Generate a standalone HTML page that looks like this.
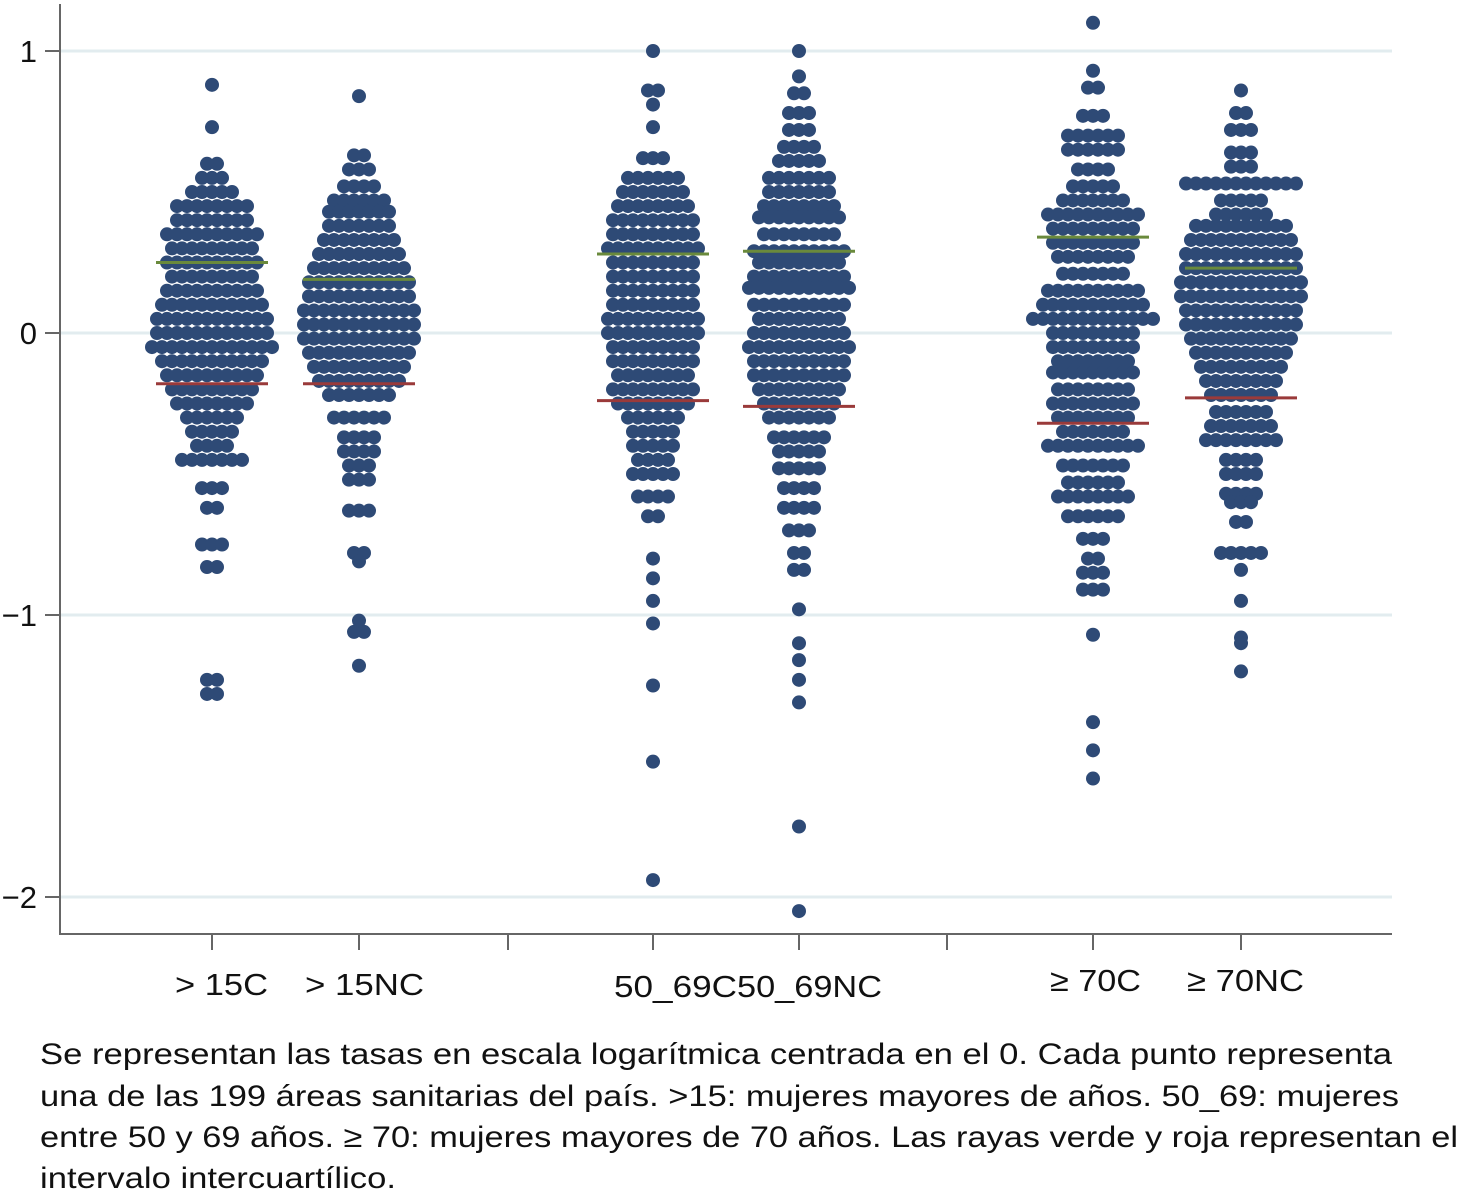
<!DOCTYPE html>
<html><head><meta charset="utf-8"><style>
body{margin:0;background:#fff;}
svg text{font-family:"Liberation Sans",sans-serif;fill:#111;}
</style></head><body>
<svg width="1461" height="1198" xmlns="http://www.w3.org/2000/svg">
<g id="grid"></g><g id="axes"></g><g id="dots"></g><g id="iqr"></g>
<g font-size="30">
<text x="40" y="1064" textLength="1352" lengthAdjust="spacingAndGlyphs">Se representan las tasas en escala logarítmica centrada en el 0. Cada punto representa</text>
<text x="40" y="1106" textLength="1359" lengthAdjust="spacingAndGlyphs">una de las 199 áreas sanitarias del país. &gt;15: mujeres mayores de años. 50_69: mujeres</text>
<text x="40" y="1147" textLength="1418" lengthAdjust="spacingAndGlyphs">entre 50 y 69 años. ≥ 70: mujeres mayores de 70 años. Las rayas verde y roja representan el</text>
<text x="40" y="1188" textLength="356" lengthAdjust="spacingAndGlyphs">intervalo intercuartílico.</text>
</g>
</svg>
<script>
const categories=["> 15C","> 15NC","50_69C","50_69NC","≥ 70C","≥ 70NC"];
const yTicks=[1,0,-1,-2];
const q3Values=[0.25,0.19,0.28,0.29,0.34,0.23];
const q1Values=[-0.18,-0.18,-0.24,-0.26,-0.32,-0.23];
const g1Bins=[[0.88,1],[0.73,1],[0.6,2],[0.55,3],[0.5,5],[0.45,8],[0.4,8],[0.35,10],[0.3,9],[0.25,10],[0.2,9],[0.15,10],[0.1,11],[0.05,12],[0,12],[-0.05,13],[-0.1,11],[-0.15,10],[-0.2,9],[-0.25,8],[-0.3,6],[-0.35,5],[-0.4,4],[-0.45,7],[-0.55,3],[-0.62,2],[-0.75,3],[-0.83,2],[-1.23,2],[-1.28,2]];
const g2Bins=[[0.84,1],[0.63,2],[0.58,3],[0.52,4],[0.47,6],[0.43,7],[0.38,7],[0.33,8],[0.28,9],[0.23,10],[0.18,11],[0.13,11],[0.08,12],[0.03,12],[-0.02,12],[-0.07,11],[-0.12,10],[-0.17,9],[-0.22,7],[-0.3,6],[-0.37,4],[-0.42,4],[-0.47,3],[-0.52,3],[-0.63,3],[-0.78,2],[-0.81,1],[-1.02,1],[-1.06,2],[-1.18,1]];
const g3Bins=[[1.0,1],[0.86,2],[0.81,1],[0.73,1],[0.62,3],[0.55,6],[0.5,7],[0.45,8],[0.4,9],[0.35,9],[0.3,10],[0.25,9],[0.2,9],[0.15,9],[0.1,9],[0.05,10],[0,10],[-0.05,9],[-0.1,9],[-0.15,8],[-0.2,9],[-0.25,8],[-0.3,6],[-0.35,5],[-0.4,5],[-0.45,4],[-0.5,5],[-0.58,4],[-0.65,2],[-0.8,1],[-0.87,1],[-0.95,1],[-1.03,1],[-1.25,1],[-1.52,1],[-1.94,1]];
const g4Bins=[[1.0,1],[0.91,1],[0.85,2],[0.78,3],[0.72,3],[0.66,4],[0.61,5],[0.55,7],[0.5,7],[0.45,8],[0.41,9],[0.35,8],[0.29,10],[0.25,9],[0.2,10],[0.16,11],[0.1,10],[0.05,9],[0,10],[-0.05,11],[-0.1,10],[-0.15,10],[-0.2,9],[-0.25,8],[-0.3,7],[-0.37,6],[-0.42,5],[-0.48,5],[-0.55,4],[-0.62,4],[-0.7,3],[-0.78,2],[-0.84,2],[-0.98,1],[-1.1,1],[-1.16,1],[-1.23,1],[-1.31,1],[-1.75,1],[-2.05,1]];
const g5Bins=[[1.1,1],[0.93,1],[0.87,2],[0.77,3],[0.7,6],[0.65,6],[0.58,4],[0.52,5],[0.47,7],[0.42,10],[0.37,9],[0.32,9],[0.27,8],[0.21,7],[0.15,10],[0.1,11],[0.05,13],[0,9],[-0.05,9],[-0.1,8],[-0.14,9],[-0.2,8],[-0.25,9],[-0.3,8],[-0.35,7],[-0.4,10],[-0.47,7],[-0.53,6],[-0.58,8],[-0.65,6],[-0.73,3],[-0.8,2],[-0.85,3],[-0.91,3],[-1.07,1],[-1.38,1],[-1.48,1],[-1.58,1]];
const g6Bins=[[0.86,1],[0.78,2],[0.72,3],[0.64,3],[0.59,3],[0.53,12],[0.47,5],[0.42,6],[0.38,10],[0.33,11],[0.28,12],[0.23,12],[0.18,13],[0.13,13],[0.08,12],[0.03,12],[-0.02,11],[-0.07,10],[-0.12,9],[-0.17,8],[-0.22,7],[-0.28,6],[-0.33,7],[-0.38,8],[-0.45,4],[-0.5,4],[-0.57,4],[-0.6,3],[-0.67,2],[-0.78,5],[-0.84,1],[-0.95,1],[-1.08,1],[-1.1,1],[-1.2,1]];
const groups=[g1Bins,g2Bins,g3Bins,g4Bins,g5Bins,g6Bins];
const NS="http://www.w3.org/2000/svg";
const yS=v=>333-v*282;
const catX=[212,359,653,799,1093,1241];
const xS=i=>catX[i];
function mk(tag,attrs,parent){const e=document.createElementNS(NS,tag);for(const k in attrs)e.setAttribute(k,attrs[k]);parent.appendChild(e);return e;}
const grid=document.getElementById('grid'),axes=document.getElementById('axes'),dots=document.getElementById('dots'),iqr=document.getElementById('iqr');
yTicks.forEach(t=>{
  const g=mk('line',{x1:61,x2:1392,y1:yS(t),y2:yS(t),stroke:'#e2ecef','stroke-width':3},grid);
  
  
  mk('line',{x1:45,x2:60,y1:yS(t),y2:yS(t),stroke:'#666','stroke-width':2},axes);
  const tx=mk('text',{x:37,y:yS(t)+11,'text-anchor':'end','font-size':31},axes);
  tx.textContent=t<0?'−'+Math.abs(t):String(t);
  
  
});
const ya=mk('line',{x1:60,x2:60,y1:4,y2:935,stroke:'#666','stroke-width':2},axes);


const xa=mk('line',{x1:59,x2:1392,y1:934,y2:934,stroke:'#666','stroke-width':2},axes);


[212,359,508,653,799,947,1093,1241].forEach(x=>mk('line',{x1:x,x2:x,y1:934,y2:950,stroke:'#666','stroke-width':2},axes));
const labelY=[995,995,997,997,991,991];
const labelLeft=[175,305,614,737,1050,1187];
const labelWidth=[93,119,123,145,91,117];
categories.forEach((c,i)=>{
  const t=mk('text',{x:labelLeft[i],y:labelY[i],'font-size':31,textLength:labelWidth[i],lengthAdjust:'spacingAndGlyphs'},axes);
  t.textContent=c;
  
  
});
groups.forEach((bins,gi)=>{
  bins.forEach(([v,n])=>{
    for(let k=0;k<n;k++){
      const c=mk('circle',{cx:xS(gi)+(k-(n-1)/2)*10,cy:yS(v),r:7,fill:'#2e4a76'},dots);
      
      
    }
  });
  const g=mk('line',{x1:xS(gi)-56,x2:xS(gi)+56,y1:yS(q3Values[gi]),y2:yS(q3Values[gi]),stroke:'#6a8a3c','stroke-width':3},iqr);
  
  
  const r=mk('line',{x1:xS(gi)-56,x2:xS(gi)+56,y1:yS(q1Values[gi]),y2:yS(q1Values[gi]),stroke:'#9a3a3a','stroke-width':3},iqr);
  
  
});
</script>
</body></html>
